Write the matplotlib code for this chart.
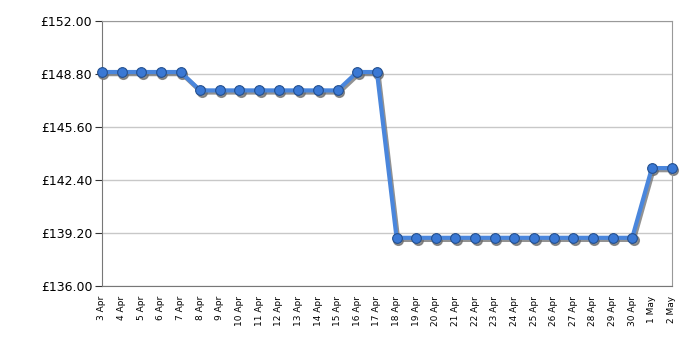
import matplotlib
matplotlib.use("Agg")
import matplotlib.pyplot as plt
import matplotlib.transforms as mtransforms

dates = ["3 Apr", "4 Apr", "5 Apr", "6 Apr", "7 Apr", "8 Apr", "9 Apr", "10 Apr",
         "11 Apr", "12 Apr", "13 Apr", "14 Apr", "15 Apr", "16 Apr", "17 Apr",
         "18 Apr", "19 Apr", "20 Apr", "21 Apr", "22 Apr", "23 Apr", "24 Apr",
         "25 Apr", "26 Apr", "27 Apr", "28 Apr", "29 Apr", "30 Apr", "1 May", "2 May"]
prices = [148.94, 148.94, 148.94, 148.94, 148.94,
          147.83, 147.83, 147.83, 147.83, 147.83, 147.83, 147.83, 147.83,
          148.94, 148.94,
          138.93, 138.93, 138.93, 138.93, 138.93, 138.93, 138.93, 138.93,
          138.93, 138.93, 138.93, 138.93, 138.93,
          143.14, 143.14]
y_ticks = [136.00, 139.20, 142.40, 145.60, 148.80, 152.00]

plt.rcParams['font.family'] = ['DejaVu Sans']
fig = plt.figure(figsize=(7, 3.5), dpi=100)
ax = fig.add_axes([0.1457, 0.182, 0.8136, 0.757])

x = list(range(len(dates)))
shadow_tr = mtransforms.offset_copy(ax.transData, fig=fig, x=1.5, y=-2.0, units="dots")
ax.plot(x, prices, color="#6e6e6e", alpha=0.75, linewidth=3.2, marker="o", markersize=7,
        markerfacecolor="#6e6e6e", markeredgecolor="#6e6e6e", transform=shadow_tr, zorder=2,
        clip_on=False)
ax.plot(x, prices, color="#4a86dc", linewidth=3.0, marker="o", markersize=7,
        markerfacecolor="#3a78d4", markeredgecolor="#24508f", markeredgewidth=0.8,
        solid_joinstyle="round", zorder=3, clip_on=False)

ax.set_xlim(0, len(dates) - 1)
ax.set_ylim(y_ticks[0], y_ticks[-1])
ax.set_yticks(y_ticks)
ax.set_yticklabels([f"£{v:.2f}" for v in y_ticks], fontsize=9)

ax.set_xticks(x)
ax.set_xticklabels(dates, rotation=90, fontsize=6.5)
ax.tick_params(axis="x", which="major", length=0, pad=7)
ax.set_xticks(x[::3], minor=True)
ax.tick_params(axis="x", which="minor", length=4, color="#333333")
ax.tick_params(axis="y", length=5, color="#333333", pad=2)

ax.grid(True, axis="y", color="#c8c8c8", linewidth=1)
ax.grid(True, axis="x", which="minor", color="#c8c8c8", linewidth=1)
ax.set_axisbelow(True)
for s in ax.spines.values():
    s.set_color("#999999")
ax.spines["left"].set_color("#777777")
ax.spines["bottom"].set_color("#777777")

fig.savefig("out.png", dpi=100)
